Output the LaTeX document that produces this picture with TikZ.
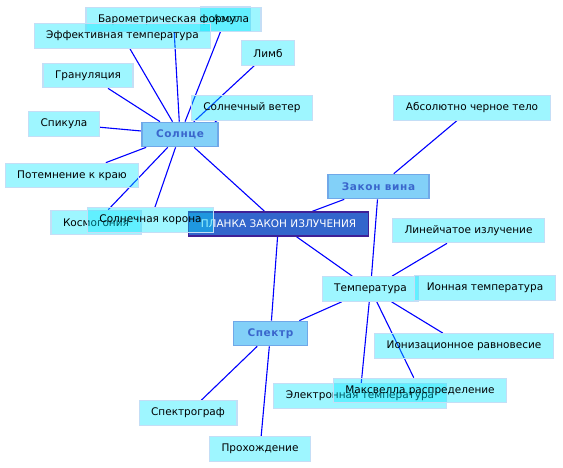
\documentclass[tikz,border=0pt]{standalone}
\usepackage{fontspec}
\setmainfont{DejaVu Sans}
\newfontfamily\hubfont[LetterSpace=6]{DejaVu Sans}
\usetikzlibrary{backgrounds}
\definecolor{leafcyan}{RGB}{0,232,255}
\definecolor{leafedge}{RGB}{196,222,246}
\definecolor{hubfill}{RGB}{130,208,248}
\definecolor{hubedge}{RGB}{112,168,232}
\definecolor{hubtext}{RGB}{58,102,204}
\definecolor{rootfill}{RGB}{51,102,204}
\definecolor{rootedge}{RGB}{64,32,150}
\definecolor{linkblue}{RGB}{0,0,255}

\begin{document}
\begin{tikzpicture}[x=1pt,y=-1pt,
  leaf/.style={draw=leafedge,line width=1.2pt,fill=leafcyan,fill opacity=0.38,text opacity=1,inner xsep=12pt,minimum height=24.5pt,font=\fontsize{10.5}{12}\selectfont},
  hub/.style={draw=hubedge,line width=1.2pt,fill=hubfill,text=hubtext,inner xsep=14pt,minimum height=24.5pt,font=\hubfont\bfseries\fontsize{10.5}{12}\selectfont},
  root/.style={draw=rootedge,line width=1.4pt,fill=rootfill,text=white,inner xsep=12pt,minimum height=24pt,font=\fontsize{10.5}{12}\selectfont},
  link/.style={draw=linkblue,line width=1.1pt}]
  \useasboundingbox (0,0) rectangle (563,468);
  \node[root] (planck) at (278.5,224) {ПЛАНКА ЗАКОН ИЗЛУЧЕНИЯ};
  \node[hub] (sun) at (180,134.5) {Солнце};
  \node[hub] (wien) at (378.5,186.5) {Закон вина};
  \node[hub] (spec) at (270.5,333.5) {Спектр};
  \node[leaf] (azot) at (225.5,19) {Азот};
  \node[leaf] (baro) at (173.5,19.5) {Барометрическая формула};
  \node[leaf] (eff) at (122.5,36) {Эффективная температура};
  \node[leaf] (limb) at (268,53) {Лимб};
  \node[leaf] (gran) at (88,75.5) {Грануляция};
  \node[leaf] (wind) at (252,108) {Солнечный ветер};
  \node[leaf] (spic) at (64,124) {Спикула};
  \node[leaf] (dark) at (72,175.5) {Потемнение к краю};
  \node[leaf] (cosmo) at (96,222.5) {Космогония};
  \node[leaf] (corona) at (150.5,220) {Солнечная корона};
  \node[leaf] (black) at (472,108) {Абсолютно черное тело};
  \node[leaf] (linem) at (468.5,230.5) {Линейчатое излучение};
  \node[leaf] (temp) at (370.5,289) {Температура};
  \node[leaf] (iontemp) at (485,288) {Ионная температура};
  \node[leaf] (ioneq) at (464,346) {Ионизационное равновесие};
  \node[leaf] (elec) at (360,396) {Электронная температура};
  \node[leaf] (maxw) at (420,390.5) {Максвелла распределение};
  \node[leaf] (sgraph) at (188,413) {Спектрограф};
  \node[leaf] (pass) at (260,449) {Прохождение};
  \begin{scope}[on background layer]
    \fill[white] (0,0) rectangle (563,468);
    \foreach \n in {azot,baro,eff,limb,gran,wind,spic,dark,cosmo,corona,planck}
      \draw[link] (sun) -- (\n);
    \draw[link] (planck) -- (wien);
    \draw[link] (planck) -- (spec);
    \draw[link] (planck) -- (temp);
    \draw[link] (wien) -- (black);
    \draw[link] (wien) -- (temp);
    \foreach \n in {linem,ioneq,maxw,elec,spec}
      \draw[link] (temp) -- (\n);
    \draw[link] (spec) -- (sgraph);
    \draw[link] (spec) -- (pass);
  \end{scope}
\end{tikzpicture}
\end{document}
